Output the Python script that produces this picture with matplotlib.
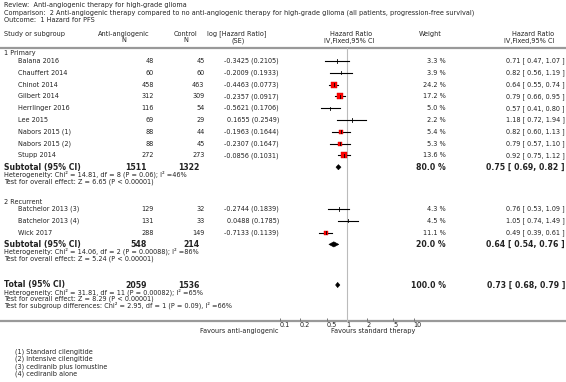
import numpy as np
import matplotlib
matplotlib.use("Agg")
import matplotlib.pyplot as plt

####################################################
# data
####################################################
title_lines = ["Review:  Anti-angiogenic therapy for high-grade glioma",
               "Comparison:  2 Anti-angiogenic therapy compared to no anti-angiogenic therapy for high-grade glioma (all patients, progression-free survival)",
               "Outcome:  1 Hazard for PFS"]

group_names = ["1 Primary", "2 Recurrent"]
group_sizes = [9, 3]

studies = ["Balana 2016", "Chauffert 2014", "Chinot 2014", "Gilbert 2014",
           "Herrlinger 2016", "Lee 2015", "Nabors 2015 (1)", "Nabors 2015 (2)",
           "Stupp 2014", "Batchelor 2013 (3)", "Batchelor 2013 (4)", "Wick 2017"]
n_anti = [48, 60, 458, 312, 116, 69, 88, 88, 272, 129, 131, 288]
n_ctrl = [45, 60, 463, 309, 54, 29, 44, 45, 273, 32, 33, 149]
log_hr = [-0.3425, -0.2009, -0.4463, -0.2357, -0.5621, 0.1655, -0.1963, -0.2307,
          -0.0856, -0.2744, 0.0488, -0.7133]
log_se = [0.2105, 0.1933, 0.0773, 0.0917, 0.1706, 0.2549, 0.1644, 0.1647,
          0.1031, 0.1839, 0.1785, 0.1139]
weight = [3.3, 3.9, 24.2, 17.2, 5.0, 2.2, 5.4, 5.3, 13.6, 4.3, 4.5, 11.1]
hr = [0.71, 0.82, 0.64, 0.79, 0.57, 1.18, 0.82, 0.79, 0.92, 0.76, 1.05, 0.49]
hr_lo = [0.47, 0.56, 0.55, 0.66, 0.41, 0.72, 0.60, 0.57, 0.75, 0.53, 0.74, 0.39]
hr_hi = [1.07, 1.19, 0.74, 0.95, 0.80, 1.94, 1.13, 1.10, 1.12, 1.09, 1.49, 0.61]

sub_n_anti = [1511, 548]
sub_n_ctrl = [1322, 214]
sub_weight = [80.0, 20.0]
sub_hr = [0.75, 0.64]
sub_lo = [0.69, 0.54]
sub_hi = [0.82, 0.76]
sub_notes = [["Heterogeneity: Chi\u00b2 = 14.81, df = 8 (P = 0.06); I\u00b2 =46%",
              "Test for overall effect: Z = 6.65 (P < 0.00001)"],
             ["Heterogeneity: Chi\u00b2 = 14.06, df = 2 (P = 0.00088); I\u00b2 =86%",
              "Test for overall effect: Z = 5.24 (P < 0.00001)"]]

tot_n_anti, tot_n_ctrl = 2059, 1536
tot_weight, tot_hr, tot_lo, tot_hi = 100.0, 0.73, 0.68, 0.79
tot_notes = ["Heterogeneity: Chi\u00b2 = 31.81, df = 11 (P = 0.00082); I\u00b2 =65%",
             "Test for overall effect: Z = 8.29 (P < 0.00001)",
             "Test for subgroup differences: Chi\u00b2 = 2.95, df = 1 (P = 0.09), I\u00b2 =66%"]

axis_ticks = [0.1, 0.2, 0.5, 1, 2, 5, 10]
axis_labels = ["0.1", "0.2", "0.5", "1", "2", "5", "10"]
favours = ["Favours anti-angiogenic", "Favours standard therapy"]
footnotes = ["(1) Standard cilengitide", "(2) Intensive cilengitide",
             "(3) cediranib plus lomustine", "(4) cediranib alone"]

####################################################
# layout (pixel coordinates, y downwards)
####################################################
W, H = 566, 382
FS = 4.7      # normal text
FSB = 5.6     # bold subtotal text
TXT = "#222222"
GRID = "#999999"

fig = plt.figure(figsize=(W / 100, H / 100), dpi=100)
ax = fig.add_axes([0, 0, 1, 1])
ax.set_xlim(0, W)
ax.set_ylim(H, 0)
ax.axis("off")

# forest panel: log scale between 0.1 (x=280) and 10 (x=413.5), y in pixels
x01, x10 = 280.0, 413.5
ytop, yaxis = 47.0, 320.5
fax = fig.add_axes([x01 / W, 1 - yaxis / H, (x10 - x01) / W, (yaxis - ytop) / H])
fax.set_xscale("log")
fax.set_xlim(0.1, 10)
fax.set_ylim(yaxis, ytop)
fax.patch.set_visible(False)
for s in fax.spines.values():
    s.set_visible(False)
fax.set_yticks([])
fax.set_xticks(axis_ticks)
fax.set_xticklabels(axis_labels, ha="left")
fax.xaxis.set_minor_locator(matplotlib.ticker.NullLocator())
fax.tick_params(axis="x", direction="in", length=2.2, width=0.7, colors="#777777",
                labelcolor=TXT, labelsize=FS, pad=1.2)

def txt(x, y, s, ha="left", bold=False, size=None):
    ax.text(x, y, s, ha=ha, va="center", color=TXT,
            fontsize=size or (FSB if bold else FS),
            fontweight="bold" if bold else "normal")

# header
for i, line in enumerate(title_lines):
    txt(4, 5.5 + 7 * i, line)
txt(4, 34, "Study or subgroup")
txt(124, 34, "Anti-angiogenic", ha="center")
txt(124, 40.5, "N", ha="center")
txt(186, 34, "Control", ha="center")
txt(186, 40.5, "N", ha="center")
txt(237, 34, "log [Hazard Ratio]", ha="center")
txt(238, 40.5, "(SE)", ha="center")
txt(351, 34, "Hazard Ratio", ha="center")
txt(349, 40.5, "IV,Fixed,95% CI", ha="center")
txt(430, 34, "Weight", ha="center")
txt(533, 34, "Hazard Ratio", ha="center")
txt(529, 40.5, "IV,Fixed,95% CI", ha="center")
ax.plot([0, W], [47.5, 47.5], color=GRID, lw=1.6, solid_capstyle="butt")

# line at no effect
fax.plot([1, 1], [ytop + 1, yaxis], color="#bbbbbb", lw=0.8, clip_on=False)

def diamond(y, est, lo, hi, h=2.6):
    fax.fill([lo, est, hi, est], [y, y - h, y, y + h], color="black", lw=0.4,
             clip_on=False)

group_start = [53.5, 201.5]
row_step = 11.8
idx = 0
for g, name in enumerate(group_names):
    txt(4, group_start[g], name)
    y = group_start[g] + 7.5
    for k in range(group_sizes[g]):
        i = idx + k
        txt(18, y, studies[i])
        txt(154, y, str(n_anti[i]), ha="right")
        txt(204.5, y, str(n_ctrl[i]), ha="right")
        txt(279, y, "%.4f (%.4f)" % (log_hr[i], log_se[i]), ha="right")
        txt(446, y, "%.1f %%" % weight[i], ha="right")
        txt(565, y, "%.2f [ %.2f, %.2f ]" % (hr[i], hr_lo[i], hr_hi[i]), ha="right")
        fax.plot([hr_lo[i], hr_hi[i]], [y, y], color="black", lw=0.8, clip_on=False)
        if weight[i] > 5.2:
            side = 1.4 * np.sqrt(weight[i]) / 1.39
            fax.plot([hr[i]], [y], marker="s", ms=side, color="#ff0000",
                     mec="#dd0000", mew=0.3, clip_on=False)
        fax.plot([hr[i], hr[i]], [y - 1.6, y + 1.6], color="black", lw=0.6,
                 clip_on=False)
        y += row_step
    idx += group_sizes[g]
    ys = y - row_step + 11.8
    txt(4, ys, "Subtotal (95% CI)", bold=True)
    txt(147, ys, str(sub_n_anti[g]), ha="right", bold=True)
    txt(200, ys, str(sub_n_ctrl[g]), ha="right", bold=True)
    txt(446, ys, "%.1f %%" % sub_weight[g], ha="right", bold=True)
    txt(565, ys, "%.2f [ %.2f, %.2f ]" % (sub_hr[g], sub_lo[g], sub_hi[g]),
        ha="right", bold=True)
    diamond(ys, sub_hr[g], sub_lo[g], sub_hi[g])
    for j, note in enumerate(sub_notes[g]):
        txt(4, ys + 7.2 + 7 * j, note)

# overall
yt = 285.0
txt(4, yt, "Total (95% CI)", bold=True)
txt(147, yt, str(tot_n_anti), ha="right", bold=True)
txt(200, yt, str(tot_n_ctrl), ha="right", bold=True)
txt(446, yt, "%.1f %%" % tot_weight, ha="right", bold=True)
txt(565, yt, "%.2f [ %.2f, %.2f ]" % (tot_hr, tot_lo, tot_hi), ha="right", bold=True)
diamond(yt, tot_hr, tot_lo, tot_hi)
for j, note in enumerate(tot_notes):
    txt(4, yt + 7 + 6.7 * j, note)

# axis line and favours labels
ax.plot([0, W], [yaxis, yaxis], color=GRID, lw=1.6, solid_capstyle="butt")
txt(279, 331.5, favours[0], ha="right")
txt(331, 331.5, favours[1])

for j, note in enumerate(footnotes):
    txt(15, 351.5 + 7.5 * j, note)

fig.savefig("out.png", dpi=100)
